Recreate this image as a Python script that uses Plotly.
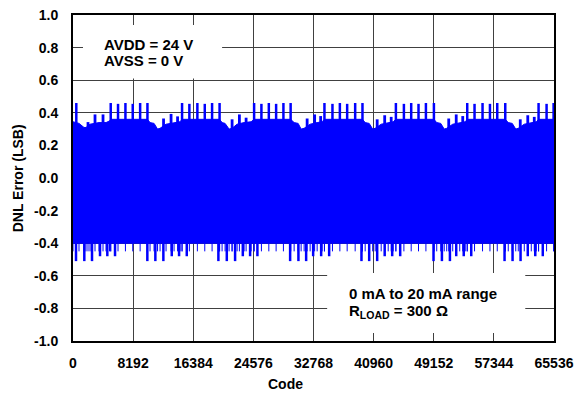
import plotly.graph_objects as go

# ---------------- data ----------------
x_ticks = [0, 8192, 16384, 24576, 32768, 40960, 49152, 57344, 65536]
y_ticks = [-1.0, -0.8, -0.6, -0.4, -0.2, 0.0, 0.2, 0.4, 0.6, 0.8, 1.0]

# upper edge of the dense DNL band (code, LSB)
band_codes = [0, 818, 1500, 1772, 2318, 3545, 4499, 4976, 5140, 10143,
              10497, 11043, 11520, 11861, 12679, 13769, 14587, 14860, 19972,
              20313, 20722, 21267, 21676, 22358, 23312, 24267, 24676, 29652,
              30130, 30674, 31083, 31492, 32310, 33265, 33946, 34260, 39440,
              39808, 40354, 40831, 41172, 41990, 42944, 43626, 43994, 49174,
              49556, 50101, 50578, 50919, 51737, 52691, 53441, 53714, 58895,
              59304, 59849, 60326, 60667, 61485, 62439, 63121, 63434, 65536]
band_top = [0.345, 0.335, 0.31, 0.31, 0.33, 0.34, 0.34, 0.35, 0.36, 0.36,
            0.34, 0.335, 0.30, 0.305, 0.33, 0.34, 0.345, 0.36, 0.36,
            0.34, 0.335, 0.30, 0.305, 0.33, 0.34, 0.345, 0.36, 0.36,
            0.34, 0.335, 0.30, 0.305, 0.33, 0.34, 0.345, 0.36, 0.36,
            0.34, 0.335, 0.30, 0.305, 0.33, 0.34, 0.345, 0.36, 0.36,
            0.34, 0.335, 0.30, 0.305, 0.33, 0.34, 0.345, 0.36, 0.36,
            0.34, 0.335, 0.30, 0.305, 0.33, 0.34, 0.345, 0.36, 0.36]
band_floor_codes = [0, 65536]
band_floor = [-0.40, -0.40]

# positive DNL spikes
spike_hi_codes = [450,
                  5140, 6135, 7144, 8139, 9148, 10143,
                  14860, 15855, 16946, 17955, 18950, 19972,
                  24676, 25671, 26680, 27675, 28670, 29652,
                  34260, 35351, 36359, 37354, 38445, 39440,
                  43994, 45085, 46080, 47075, 48084, 49174,
                  53714, 54709, 55800, 56809, 57804, 58895,
                  63434, 64525, 65480]
spike_hi_vals = [0.46,
                 0.46, 0.455, 0.46, 0.455, 0.46, 0.46,
                 0.46, 0.455, 0.46, 0.455, 0.46, 0.46,
                 0.46, 0.455, 0.46, 0.455, 0.46, 0.46,
                 0.46, 0.455, 0.46, 0.455, 0.46, 0.46,
                 0.46, 0.455, 0.46, 0.455, 0.46, 0.46,
                 0.46, 0.455, 0.46, 0.455, 0.46, 0.46,
                 0.46, 0.455, 0.46]

# intermediate positive bumps between spike groups
bump_codes = [2045, 2999, 4090,
              12338, 13360, 14247,
              21676, 22672, 23585,
              31901, 32924, 33742,
              41444, 42467, 43353,
              51192, 52214, 53101,
              60940, 61962, 62848]
bump_vals = [0.343, 0.39, 0.39,
             0.365, 0.393, 0.378,
             0.36, 0.39, 0.37,
             0.365, 0.39, 0.38,
             0.36, 0.385, 0.375,
             0.365, 0.39, 0.38,
             0.36, 0.385, 0.375]

# negative DNL spikes
spike_lo_codes = [409, 1541, 2590, 3681, 4676, 5726,
                  10129, 11220, 12311, 13456, 14451, 15501,
                  19809, 20954, 22085, 23135, 24130, 25126,
                  29584, 30715, 31765, 32719, 33810, 34900,
                  39304, 40354, 41444, 42467, 43489, 44580,
                  49120, 50265, 51355, 52214, 53237, 54259,
                  58799, 59890, 60980, 61962, 62984, 64007]
spike_lo_vals = [-0.51, -0.51, -0.51, -0.48, -0.48, -0.48,
                 -0.51, -0.51, -0.51, -0.48, -0.48, -0.48,
                 -0.51, -0.51, -0.51, -0.48, -0.48, -0.48,
                 -0.51, -0.51, -0.51, -0.48, -0.48, -0.48,
                 -0.51, -0.51, -0.51, -0.48, -0.48, -0.48,
                 -0.51, -0.51, -0.51, -0.48, -0.48, -0.48,
                 -0.51, -0.51, -0.51, -0.48, -0.48, -0.48]
comb_depth = -0.45

BLUE = "#0000FF"
FONT = "Liberation Sans, Arial, Helvetica, sans-serif"


def segments(codes, tops, base):
    xs, ys = [], []
    for c, v in zip(codes, tops):
        xs += [c, c, None]
        ys += [base, v, None]
    return xs, ys


fig = go.Figure()

fig.add_trace(go.Scatter(x=band_floor_codes, y=band_floor, mode="lines",
                         line=dict(color=BLUE, width=1), hoverinfo="skip",
                         showlegend=False))
fig.add_trace(go.Scatter(x=band_codes, y=band_top, mode="lines",
                         line=dict(color=BLUE, width=1), fill="tonexty",
                         fillcolor=BLUE, hoverinfo="skip", showlegend=False))

comb_codes = spike_hi_codes + bump_codes + band_codes
cx, cy = segments(comb_codes, [comb_depth] * len(comb_codes), -0.39)
fig.add_trace(go.Scatter(x=cx, y=cy, mode="lines",
                         line=dict(color=BLUE, width=1), hoverinfo="skip",
                         showlegend=False))

lx, ly = segments(spike_lo_codes, spike_lo_vals, -0.39)
fig.add_trace(go.Scatter(x=lx, y=ly, mode="lines",
                         line=dict(color=BLUE, width=2.5), hoverinfo="skip",
                         showlegend=False))

hx, hy = segments(spike_hi_codes, spike_hi_vals, 0.3)
fig.add_trace(go.Scatter(x=hx, y=hy, mode="lines",
                         line=dict(color=BLUE, width=2.5), hoverinfo="skip",
                         showlegend=False))

bx, by = segments(bump_codes, bump_vals, 0.3)
fig.add_trace(go.Scatter(x=bx, y=by, mode="lines",
                         line=dict(color=BLUE, width=2.8), hoverinfo="skip",
                         showlegend=False))

# white boxes behind the condition labels (hide grid lines)
fig.add_shape(type="rect", x0=1363, x1=20313, y0=0.61, y1=0.939,
              fillcolor="white", line=dict(width=0), layer="between")
fig.add_shape(type="rect", x0=34628, x1=61621, y0=-0.951, y1=-0.583,
              fillcolor="white", line=dict(width=0), layer="between")

lab_font = dict(family=FONT, size=15, color="black", weight="bold")
for txt, xx, yy in [("AVDD = 24 V", 3913, 0.822),
                    ("AVSS = 0 V", 3913, 0.718),
                    ("0 mA to 20 mA range", 37314, -0.710),
                    ("R<sub>LOAD</sub> = 300 Ω", 37314, -0.822)]:
    fig.add_annotation(x=xx, y=yy, xref="x", yref="y", text=txt,
                       showarrow=False, xanchor="left", yanchor="middle",
                       font=lab_font)

title_font = dict(family=FONT, size=14, color="black", weight="bold")
fig.add_annotation(x=(285 - 73) / 481, y=-(384 - 341) / 326, xref="paper",
                   yref="paper", text="Code", showarrow=False,
                   xanchor="center", yanchor="middle", font=title_font)
fig.add_annotation(x=(18.3 - 73) / 481, y=0.5, xref="paper", yref="paper",
                   text="DNL Error (LSB)", textangle=-90, showarrow=False,
                   xanchor="center", yanchor="middle", font=title_font)

tick_font = dict(family=FONT, size=14, color="black", weight="bold")
fig.update_xaxes(range=[0, 65536], tickvals=x_ticks,
                 ticktext=[str(v) for v in x_ticks], showgrid=True,
                 gridcolor="#404040", gridwidth=1.2, zeroline=False,
                 showline=True, linecolor="black", linewidth=2, mirror=True,
                 ticks="", tickfont=tick_font, ticklabelstandoff=8,
                 automargin=False)
fig.update_yaxes(range=[-1.0, 1.0], tickvals=y_ticks,
                 ticktext=[f"{v:.1f}" for v in y_ticks], showgrid=True,
                 gridcolor="#404040", gridwidth=1.2, zeroline=False,
                 showline=True, linecolor="black", linewidth=2, mirror=True,
                 ticks="", tickfont=tick_font, ticklabelstandoff=10,
                 automargin=False)

fig.update_layout(width=575, height=395, autosize=False,
                  margin=dict(l=73, r=21, t=15, b=54),
                  paper_bgcolor="white", plot_bgcolor="white",
                  showlegend=False, font=dict(family=FONT))

fig.write_html("out.html", config={"displayModeBar": False},
               post_script="document.body.style.margin='0';")
